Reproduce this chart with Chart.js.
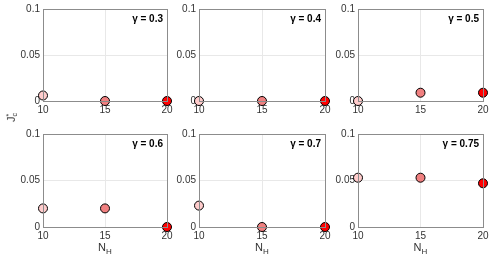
<!DOCTYPE html>
<html>
<head>
<meta charset="utf-8">
<script src="https://cdn.jsdelivr.net/npm/chart.js@4"></script>
<style>
  body { margin: 0; background: #fff; width: 498px; height: 260px; position: relative; overflow: hidden; }
  canvas { position: absolute; }
  #ylab { position: absolute; left: 7px; top: 111px; font: 11px "Liberation Sans", Arial, sans-serif; color: #333;
          transform: rotate(-90deg); transform-origin: center; white-space: nowrap; line-height: 12px; }
  #ylab .sc { display: inline-block; vertical-align: middle; font-size: 7px; line-height: 6px; text-align: left; }
</style>
</head>
<body>
<canvas id="c1" width="164" height="120" style="left:13px;top:0px"></canvas>
<canvas id="c2" width="166" height="120" style="left:169px;top:0px"></canvas>
<canvas id="c3" width="165" height="120" style="left:328px;top:0px"></canvas>
<canvas id="c4" width="164" height="135" style="left:13px;top:125px"></canvas>
<canvas id="c5" width="166" height="135" style="left:169px;top:125px"></canvas>
<canvas id="c6" width="165" height="135" style="left:328px;top:125px"></canvas>
<div id="ylab">J<span class="sc">*<br>c</span></div>
<script>
// data
const nH = [10, 15, 20];
const gammaLabels = ['0.3', '0.4', '0.5', '0.6', '0.7', '0.75'];
const jc_03 = [0.006, 0, 0];
const jc_04 = [0, 0, 0];
const jc_05 = [0, 0.009, 0.009];
const jc_06 = [0.02, 0.02, 0];
const jc_07 = [0.023, 0, 0];
const jc_075 = [0.053, 0.053, 0.047];
const xTicks = [10, 15, 20];
const yTicks = [0, 0.05, 0.1];
const markerColors = ['#ffcccc', '#f08080', '#ff0000'];

const allSeries = [jc_03, jc_04, jc_05, jc_06, jc_07, jc_075];
const FONT = '"Liberation Sans", Arial, sans-serif';

// box round the axes + gamma text + N_H label on bottom row
const boxPlugin = {
  id: 'box',
  afterDraw(chart, args, opts) {
    const a = chart.chartArea, ctx = chart.ctx;
    ctx.save();
    ctx.strokeStyle = '#8c8c8c';
    ctx.lineWidth = 1;
    ctx.strokeRect(Math.round(a.left) + 0.5, Math.round(a.top) + 0.5,
                   Math.round(a.right - a.left), Math.round(a.bottom - a.top));
    ctx.fillStyle = '#000';
    ctx.font = 'bold 10px ' + FONT;
    ctx.textAlign = 'right';
    ctx.textBaseline = 'middle';
    ctx.fillText('\u03b3 = ' + opts.gamma, a.right - 4, a.top + 10);
    if (opts.xlabel) {
      const cx = (a.left + a.right) / 2;
      ctx.fillStyle = '#333';
      ctx.font = '11px ' + FONT;
      const nw = ctx.measureText('N').width;
      ctx.textAlign = 'left';
      ctx.fillText('N', cx - nw / 2 - 3, a.bottom + 21);
      ctx.font = '8px ' + FONT;
      ctx.fillText('H', cx + nw / 2 - 3, a.bottom + 25);
    }
    ctx.restore();
  }
};

function makeChart(id, idx, bottomRow) {
  const vals = allSeries[idx];
  const pts = nH.map((x, i) => ({ x: x, y: vals[i] }));
  return new Chart(document.getElementById(id), {
    type: 'scatter',
    data: {
      datasets: [{
        data: pts,
        pointRadius: 4.5,
        pointHoverRadius: 4.5,
        pointBackgroundColor: markerColors,
        pointBorderColor: '#000',
        pointBorderWidth: 1,
        clip: false
      }]
    },
    options: {
      responsive: false,
      animation: false,
      events: [],
      layout: { padding: { top: 9, right: 10, left: 0, bottom: 0 } },
      plugins: {
        legend: { display: false },
        tooltip: { enabled: false },
        box: { gamma: gammaLabels[idx], xlabel: bottomRow }
      },
      scales: {
        x: {
          type: 'linear', min: 10, max: 20,
          afterBuildTicks: s => { s.ticks = xTicks.map(v => ({ value: v })); },
          afterFit: s => { s.height = bottomRow ? 33 : 19; },
          grid: { color: '#e8e8e8', drawTicks: false },
          border: { display: false },
          ticks: { color: '#333', font: { size: 10, family: FONT }, padding: 3, maxRotation: 0,
                   callback: v => String(v) }
        },
        y: {
          min: 0, max: 0.1,
          afterBuildTicks: s => { s.ticks = yTicks.map(v => ({ value: v })); },
          afterFit: s => { s.width = 30; },
          grid: { color: '#e8e8e8', drawTicks: false },
          border: { display: false },
          ticks: { color: '#333', font: { size: 10, family: FONT }, padding: 3,
                   callback: v => String(v) }
        }
      }
    },
    plugins: [boxPlugin]
  });
}

makeChart('c1', 0, false);
makeChart('c2', 1, false);
makeChart('c3', 2, false);
makeChart('c4', 3, true);
makeChart('c5', 4, true);
makeChart('c6', 5, true);
</script>
</body>
</html>
